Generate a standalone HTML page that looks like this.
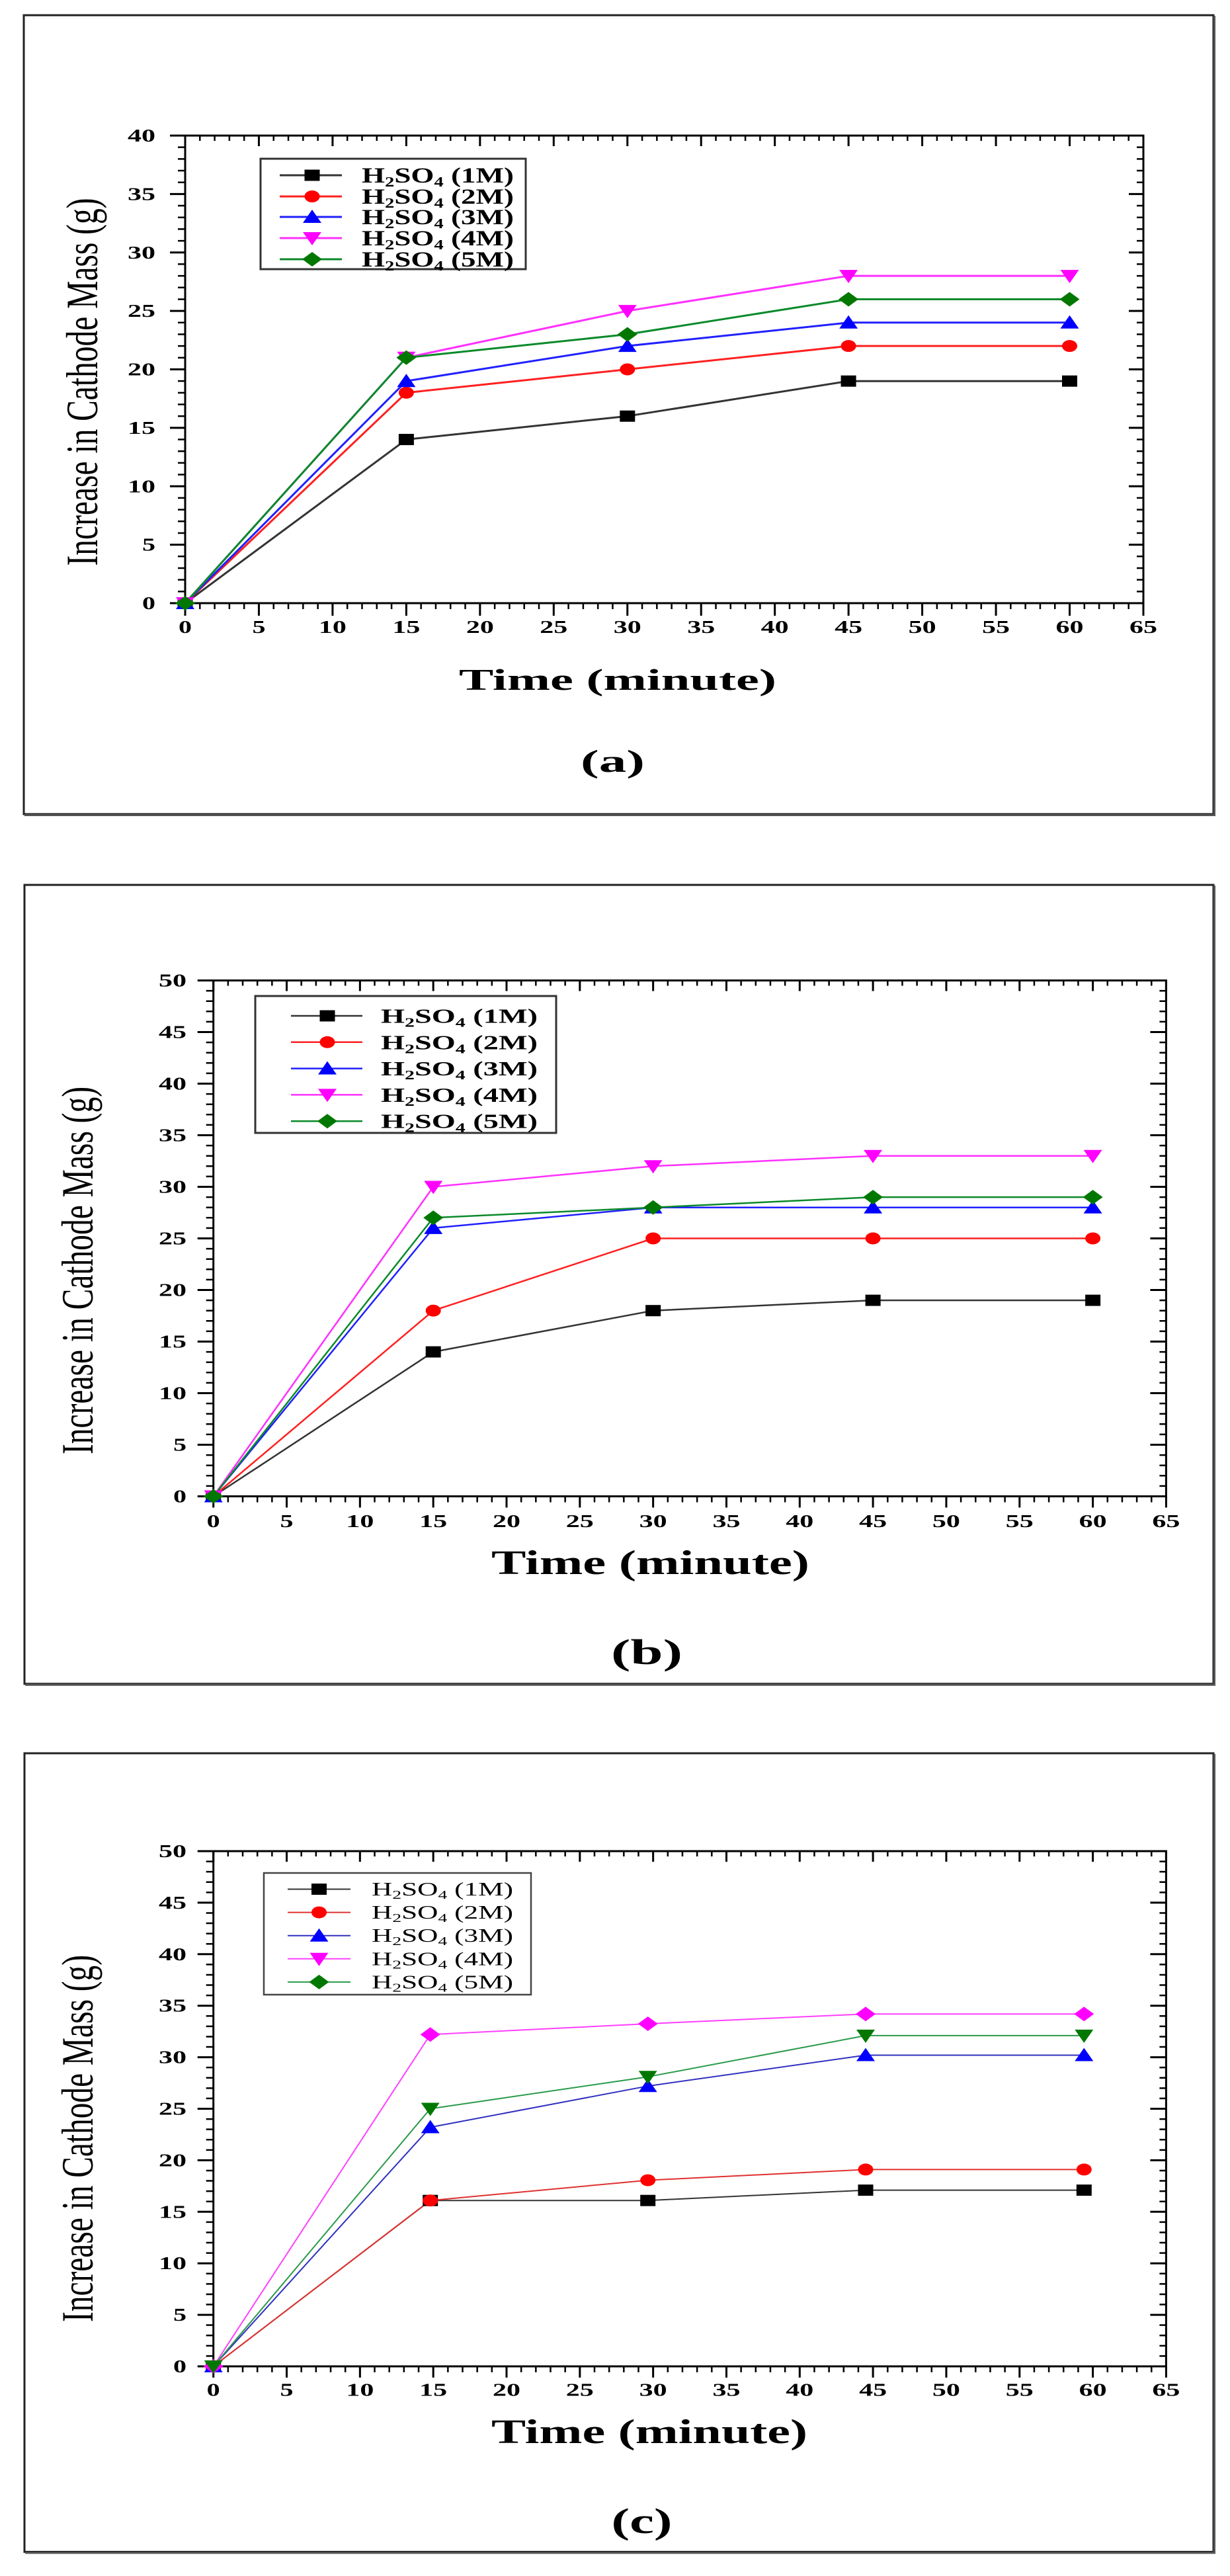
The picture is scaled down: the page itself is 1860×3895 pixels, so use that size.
<!DOCTYPE html>
<html><head><meta charset="utf-8"><style>
html,body{margin:0;padding:0;background:#fff;}
svg{display:block;}
text{font-family:"Liberation Serif","DejaVu Serif",serif;fill:#000;}
.tk{font-size:27px;font-weight:bold;}
.lg{font-weight:bold;}
</style></head><body>
<svg width="1860" height="3895" viewBox="0 0 1860 3895" xmlns="http://www.w3.org/2000/svg">
<defs>
<rect id="sq" x="-11.5" y="-8.5" width="23" height="17"/>
<ellipse id="ci" rx="11.5" ry="9"/>
<polygon id="up" points="0,-11 14,9 -14,9"/>
<polygon id="dn" points="-14,-9 14,-9 0,11"/>
<polygon id="di" points="0,-11 15,0 0,11 -15,0"/>
</defs>
<rect width="1860" height="3895" fill="#fff"/>

<!-- ================= PANEL A ================= -->
<rect x="36" y="23" width="1799" height="1208" fill="none" stroke="#222" stroke-width="3"/>
<line x1="1836.5" y1="24" x2="1836.5" y2="1233" stroke="#555" stroke-width="3"/>
<line x1="37" y1="1232.5" x2="1838" y2="1232.5" stroke="#555" stroke-width="3"/>

<!-- axes box -->
<rect x="280" y="205" width="1449" height="707" fill="none" stroke="#000" stroke-width="3"/>
<!-- ticks -->
<g stroke="#000" fill="none">
<line x1="278.75" y1="916.5" x2="1730.25" y2="916.5" stroke-width="9" stroke-dasharray="2.5 19.792"/>
<line x1="278.5" y1="921.5" x2="1730.5" y2="921.5" stroke-width="19" stroke-dasharray="3 108.46"/>
<line x1="278.75" y1="209" x2="1730.25" y2="209" stroke-width="8" stroke-dasharray="2.5 19.792"/>
<line x1="278.5" y1="213" x2="1730.5" y2="213" stroke-width="16" stroke-dasharray="3 108.46"/>
<line x1="274.5" y1="203.75" x2="274.5" y2="913.25" stroke-width="11" stroke-dasharray="2.5 15.175"/>
<line x1="268.5" y1="203.5" x2="268.5" y2="913.5" stroke-width="23" stroke-dasharray="3 85.375"/>
<line x1="1724" y1="203.75" x2="1724" y2="913.25" stroke-width="10" stroke-dasharray="2.5 15.175"/>
<line x1="1718" y1="203.5" x2="1718" y2="913.5" stroke-width="22" stroke-dasharray="3 85.375"/>
</g>
<!-- tick labels -->
<g class="tk" text-anchor="middle">
<text x="280" y="957" textLength="20" lengthAdjust="spacingAndGlyphs">0</text>
<text x="391.46" y="957" textLength="20" lengthAdjust="spacingAndGlyphs">5</text>
<text x="502.92" y="957" textLength="42" lengthAdjust="spacingAndGlyphs">10</text>
<text x="614.38" y="957" textLength="42" lengthAdjust="spacingAndGlyphs">15</text>
<text x="725.84" y="957" textLength="42" lengthAdjust="spacingAndGlyphs">20</text>
<text x="837.3" y="957" textLength="42" lengthAdjust="spacingAndGlyphs">25</text>
<text x="948.76" y="957" textLength="42" lengthAdjust="spacingAndGlyphs">30</text>
<text x="1060.22" y="957" textLength="42" lengthAdjust="spacingAndGlyphs">35</text>
<text x="1171.68" y="957" textLength="42" lengthAdjust="spacingAndGlyphs">40</text>
<text x="1283.14" y="957" textLength="42" lengthAdjust="spacingAndGlyphs">45</text>
<text x="1394.6" y="957" textLength="42" lengthAdjust="spacingAndGlyphs">50</text>
<text x="1506.06" y="957" textLength="42" lengthAdjust="spacingAndGlyphs">55</text>
<text x="1617.52" y="957" textLength="42" lengthAdjust="spacingAndGlyphs">60</text>
<text x="1728.98" y="957" textLength="42" lengthAdjust="spacingAndGlyphs">65</text>
</g>
<g class="tk" text-anchor="end">
<text x="235" y="921" textLength="20" lengthAdjust="spacingAndGlyphs">0</text>
<text x="235" y="832.6" textLength="20" lengthAdjust="spacingAndGlyphs">5</text>
<text x="235" y="744.25" textLength="42" lengthAdjust="spacingAndGlyphs">10</text>
<text x="235" y="655.9" textLength="42" lengthAdjust="spacingAndGlyphs">15</text>
<text x="235" y="567.5" textLength="42" lengthAdjust="spacingAndGlyphs">20</text>
<text x="235" y="479.1" textLength="42" lengthAdjust="spacingAndGlyphs">25</text>
<text x="235" y="390.75" textLength="42" lengthAdjust="spacingAndGlyphs">30</text>
<text x="235" y="302.4" textLength="42" lengthAdjust="spacingAndGlyphs">35</text>
<text x="235" y="214" textLength="42" lengthAdjust="spacingAndGlyphs">40</text>
</g>
<!-- axis titles -->
<text transform="translate(147,577.5) scale(1.35,1) rotate(-90)" x="0" y="0" text-anchor="middle" font-size="50" textLength="556" lengthAdjust="spacingAndGlyphs">Increase in Cathode Mass (g)</text>
<text x="694" y="1043" font-size="46" font-weight="bold" textLength="480" lengthAdjust="spacingAndGlyphs">Time (minute)</text>
<text x="878" y="1167" font-size="48" font-weight="bold" textLength="97" lengthAdjust="spacingAndGlyphs">(a)</text>

<!-- series A -->
<g fill="none" stroke-width="3" stroke-linejoin="round">
<path d="M280,912 L614.4,664.55 L948.8,629.2 L1283.1,576.2 L1617.5,576.2" stroke="#333"/>
<path d="M280,912 L614.4,593.85 L948.8,558.5 L1283.1,523.15 L1617.5,523.15" stroke="#ff2020"/>
<path d="M280,912 L614.4,576.2 L948.8,523.15 L1283.1,487.8 L1617.5,487.8" stroke="#2020ff"/>
<path d="M280,912 L614.4,540.8 L948.8,470.1 L1283.1,417.1 L1617.5,417.1" stroke="#ff30ff"/>
<path d="M280,912 L614.4,540.8 L948.8,505.5 L1283.1,452.45 L1617.5,452.45" stroke="#0a8a2a"/>
</g>
<g fill="#000"><use href="#sq" x="280" y="912"/><use href="#sq" x="614.4" y="664.55"/><use href="#sq" x="948.8" y="629.2"/><use href="#sq" x="1283.1" y="576.2"/><use href="#sq" x="1617.5" y="576.2"/></g>
<g fill="#ff0000"><use href="#ci" x="280" y="912"/><use href="#ci" x="614.4" y="593.85"/><use href="#ci" x="948.8" y="558.5"/><use href="#ci" x="1283.1" y="523.15"/><use href="#ci" x="1617.5" y="523.15"/></g>
<g fill="#0000ff"><use href="#up" x="280" y="912"/><use href="#up" x="614.4" y="576.2"/><use href="#up" x="948.8" y="523.15"/><use href="#up" x="1283.1" y="487.8"/><use href="#up" x="1617.5" y="487.8"/></g>
<g fill="#ff00ff"><use href="#dn" x="280" y="912"/><use href="#dn" x="614.4" y="540.8"/><use href="#dn" x="948.8" y="470.1"/><use href="#dn" x="1283.1" y="417.1"/><use href="#dn" x="1617.5" y="417.1"/></g>
<g fill="#007800"><use href="#di" x="280" y="912"/><use href="#di" x="614.4" y="540.8"/><use href="#di" x="948.8" y="505.5"/><use href="#di" x="1283.1" y="452.45"/><use href="#di" x="1617.5" y="452.45"/></g>

<!-- legend A -->
<rect x="394" y="240" width="401" height="167" fill="#fff" stroke="#333" stroke-width="3"/>
<g stroke-width="3">
<line x1="423" y1="265" x2="517" y2="265" stroke="#333"/>
<line x1="423" y1="297" x2="517" y2="297" stroke="#ff2020"/>
<line x1="423" y1="328" x2="517" y2="328" stroke="#2020ff"/>
<line x1="423" y1="360" x2="517" y2="360" stroke="#ff30ff"/>
<line x1="423" y1="392" x2="517" y2="392" stroke="#0a8a2a"/>
</g>
<use href="#sq" x="472" y="265" fill="#000"/>
<use href="#ci" x="472" y="297" fill="#ff0000"/>
<use href="#up" x="472" y="328" fill="#0000ff"/>
<use href="#dn" x="472" y="360" fill="#ff00ff"/>
<use href="#di" x="472" y="392" fill="#007800"/>
<g class="lg" font-size="33">
<text x="547" y="276" textLength="230" lengthAdjust="spacingAndGlyphs">H<tspan font-size="21" dy="6">2</tspan><tspan dy="-6">SO</tspan><tspan font-size="21" dy="6">4</tspan><tspan dy="-6"> (1M)</tspan></text>
<text x="547" y="308" textLength="230" lengthAdjust="spacingAndGlyphs">H<tspan font-size="21" dy="6">2</tspan><tspan dy="-6">SO</tspan><tspan font-size="21" dy="6">4</tspan><tspan dy="-6"> (2M)</tspan></text>
<text x="547" y="339" textLength="230" lengthAdjust="spacingAndGlyphs">H<tspan font-size="21" dy="6">2</tspan><tspan dy="-6">SO</tspan><tspan font-size="21" dy="6">4</tspan><tspan dy="-6"> (3M)</tspan></text>
<text x="547" y="371" textLength="230" lengthAdjust="spacingAndGlyphs">H<tspan font-size="21" dy="6">2</tspan><tspan dy="-6">SO</tspan><tspan font-size="21" dy="6">4</tspan><tspan dy="-6"> (4M)</tspan></text>
<text x="547" y="403" textLength="230" lengthAdjust="spacingAndGlyphs">H<tspan font-size="21" dy="6">2</tspan><tspan dy="-6">SO</tspan><tspan font-size="21" dy="6">4</tspan><tspan dy="-6"> (5M)</tspan></text>
</g>

<!-- ================= PANEL B ================= -->
<rect x="37" y="1338" width="1798" height="1208" fill="none" stroke="#222" stroke-width="3"/>
<line x1="1836.5" y1="1339" x2="1836.5" y2="2548" stroke="#555" stroke-width="3"/>
<line x1="38" y1="2547.5" x2="1838" y2="2547.5" stroke="#555" stroke-width="3"/>

<rect x="322.7" y="1482.5" width="1440.7" height="780" fill="none" stroke="#000" stroke-width="3"/>
<g stroke="#000" fill="none">
<line x1="321.45" y1="2267" x2="1764.65" y2="2267" stroke-width="9" stroke-dasharray="2.5 19.665"/>
<line x1="321.2" y1="2271" x2="1764.9" y2="2271" stroke-width="17" stroke-dasharray="3 107.825"/>
<line x1="321.45" y1="1486.5" x2="1764.65" y2="1486.5" stroke-width="8" stroke-dasharray="2.5 19.665"/>
<line x1="321.2" y1="1490.5" x2="1764.9" y2="1490.5" stroke-width="16" stroke-dasharray="3 107.825"/>
<line x1="317.2" y1="1481.25" x2="317.2" y2="2263.75" stroke-width="11" stroke-dasharray="2.5 13.1"/>
<line x1="310.7" y1="1481" x2="310.7" y2="2264" stroke-width="24" stroke-dasharray="3 75"/>
<line x1="1758.4" y1="1481.25" x2="1758.4" y2="2263.75" stroke-width="10" stroke-dasharray="2.5 13.1"/>
<line x1="1751.4" y1="1481" x2="1751.4" y2="2264" stroke-width="24" stroke-dasharray="3 75"/>
</g>
<g class="tk" text-anchor="middle">
<text x="322.7" y="2309" textLength="20" lengthAdjust="spacingAndGlyphs">0</text>
<text x="433.5" y="2309" textLength="20" lengthAdjust="spacingAndGlyphs">5</text>
<text x="544.35" y="2309" textLength="42" lengthAdjust="spacingAndGlyphs">10</text>
<text x="655.2" y="2309" textLength="42" lengthAdjust="spacingAndGlyphs">15</text>
<text x="766" y="2309" textLength="42" lengthAdjust="spacingAndGlyphs">20</text>
<text x="876.8" y="2309" textLength="42" lengthAdjust="spacingAndGlyphs">25</text>
<text x="987.65" y="2309" textLength="42" lengthAdjust="spacingAndGlyphs">30</text>
<text x="1098.5" y="2309" textLength="42" lengthAdjust="spacingAndGlyphs">35</text>
<text x="1209.3" y="2309" textLength="42" lengthAdjust="spacingAndGlyphs">40</text>
<text x="1320.1" y="2309" textLength="42" lengthAdjust="spacingAndGlyphs">45</text>
<text x="1430.95" y="2309" textLength="42" lengthAdjust="spacingAndGlyphs">50</text>
<text x="1541.8" y="2309" textLength="42" lengthAdjust="spacingAndGlyphs">55</text>
<text x="1652.6" y="2309" textLength="42" lengthAdjust="spacingAndGlyphs">60</text>
<text x="1763.4" y="2309" textLength="42" lengthAdjust="spacingAndGlyphs">65</text>
</g>
<g class="tk" text-anchor="end">
<text x="282" y="2271.5" textLength="20" lengthAdjust="spacingAndGlyphs">0</text>
<text x="282" y="2193.5" textLength="20" lengthAdjust="spacingAndGlyphs">5</text>
<text x="282" y="2115.5" textLength="42" lengthAdjust="spacingAndGlyphs">10</text>
<text x="282" y="2037.5" textLength="42" lengthAdjust="spacingAndGlyphs">15</text>
<text x="282" y="1959.5" textLength="42" lengthAdjust="spacingAndGlyphs">20</text>
<text x="282" y="1881.5" textLength="42" lengthAdjust="spacingAndGlyphs">25</text>
<text x="282" y="1803.5" textLength="42" lengthAdjust="spacingAndGlyphs">30</text>
<text x="282" y="1725.5" textLength="42" lengthAdjust="spacingAndGlyphs">35</text>
<text x="282" y="1647.5" textLength="42" lengthAdjust="spacingAndGlyphs">40</text>
<text x="282" y="1569.5" textLength="42" lengthAdjust="spacingAndGlyphs">45</text>
<text x="282" y="1491.5" textLength="42" lengthAdjust="spacingAndGlyphs">50</text>
</g>
<text transform="translate(140,1921) scale(1.35,1) rotate(-90)" x="0" y="0" text-anchor="middle" font-size="50" textLength="556" lengthAdjust="spacingAndGlyphs">Increase in Cathode Mass (g)</text>
<text x="743" y="2380" font-size="52" font-weight="bold" textLength="481" lengthAdjust="spacingAndGlyphs">Time (minute)</text>
<text x="924" y="2516" font-size="54" font-weight="bold" textLength="108" lengthAdjust="spacingAndGlyphs">(b)</text>

<g fill="none" stroke-width="2.5" stroke-linejoin="round">
<path d="M322.7,2262.5 L655.2,2044.1 L987.65,1981.7 L1320.1,1966.1 L1652.6,1966.1" stroke="#333"/>
<path d="M322.7,2262.5 L655.2,1981.7 L987.65,1872.5 L1320.1,1872.5 L1652.6,1872.5" stroke="#ff2020"/>
<path d="M322.7,2262.5 L655.2,1856.9 L987.65,1825.7 L1320.1,1825.7 L1652.6,1825.7" stroke="#2020ff"/>
<path d="M322.7,2262.5 L655.2,1794.5 L987.65,1763.3 L1320.1,1747.7 L1652.6,1747.7" stroke="#ff30ff"/>
<path d="M322.7,2262.5 L655.2,1841.3 L987.65,1825.7 L1320.1,1810.1 L1652.6,1810.1" stroke="#0a8a2a"/>
</g>
<g fill="#000"><use href="#sq" x="322.7" y="2262.5"/><use href="#sq" x="655.2" y="2044.1"/><use href="#sq" x="987.65" y="1981.7"/><use href="#sq" x="1320.1" y="1966.1"/><use href="#sq" x="1652.6" y="1966.1"/></g>
<g fill="#ff0000"><use href="#ci" x="322.7" y="2262.5"/><use href="#ci" x="655.2" y="1981.7"/><use href="#ci" x="987.65" y="1872.5"/><use href="#ci" x="1320.1" y="1872.5"/><use href="#ci" x="1652.6" y="1872.5"/></g>
<g fill="#0000ff"><use href="#up" x="322.7" y="2262.5"/><use href="#up" x="655.2" y="1856.9"/><use href="#up" x="987.65" y="1825.7"/><use href="#up" x="1320.1" y="1825.7"/><use href="#up" x="1652.6" y="1825.7"/></g>
<g fill="#ff00ff"><use href="#dn" x="322.7" y="2262.5"/><use href="#dn" x="655.2" y="1794.5"/><use href="#dn" x="987.65" y="1763.3"/><use href="#dn" x="1320.1" y="1747.7"/><use href="#dn" x="1652.6" y="1747.7"/></g>
<g fill="#007800"><use href="#di" x="322.7" y="2262.5"/><use href="#di" x="655.2" y="1841.3"/><use href="#di" x="987.65" y="1825.7"/><use href="#di" x="1320.1" y="1810.1"/><use href="#di" x="1652.6" y="1810.1"/></g>

<rect x="386" y="1506" width="455" height="207" fill="#fff" stroke="#333" stroke-width="3"/>
<g stroke-width="2.5">
<line x1="440" y1="1536" x2="548" y2="1536" stroke="#333"/>
<line x1="440" y1="1575.8" x2="548" y2="1575.8" stroke="#ff2020"/>
<line x1="440" y1="1615.6" x2="548" y2="1615.6" stroke="#2020ff"/>
<line x1="440" y1="1655.4" x2="548" y2="1655.4" stroke="#ff30ff"/>
<line x1="440" y1="1695.2" x2="548" y2="1695.2" stroke="#0a8a2a"/>
</g>
<use href="#sq" x="495" y="1536" fill="#000"/>
<use href="#ci" x="495" y="1575.8" fill="#ff0000"/>
<use href="#up" x="495" y="1615.6" fill="#0000ff"/>
<use href="#dn" x="495" y="1655.4" fill="#ff00ff"/>
<use href="#di" x="495" y="1695.2" fill="#007800"/>
<g class="lg" font-size="31">
<text x="576" y="1546.5" textLength="237" lengthAdjust="spacingAndGlyphs">H<tspan font-size="20" dy="6">2</tspan><tspan dy="-6">SO</tspan><tspan font-size="20" dy="6">4</tspan><tspan dy="-6"> (1M)</tspan></text>
<text x="576" y="1586.3" textLength="237" lengthAdjust="spacingAndGlyphs">H<tspan font-size="20" dy="6">2</tspan><tspan dy="-6">SO</tspan><tspan font-size="20" dy="6">4</tspan><tspan dy="-6"> (2M)</tspan></text>
<text x="576" y="1626.1" textLength="237" lengthAdjust="spacingAndGlyphs">H<tspan font-size="20" dy="6">2</tspan><tspan dy="-6">SO</tspan><tspan font-size="20" dy="6">4</tspan><tspan dy="-6"> (3M)</tspan></text>
<text x="576" y="1665.9" textLength="237" lengthAdjust="spacingAndGlyphs">H<tspan font-size="20" dy="6">2</tspan><tspan dy="-6">SO</tspan><tspan font-size="20" dy="6">4</tspan><tspan dy="-6"> (4M)</tspan></text>
<text x="576" y="1705.7" textLength="237" lengthAdjust="spacingAndGlyphs">H<tspan font-size="20" dy="6">2</tspan><tspan dy="-6">SO</tspan><tspan font-size="20" dy="6">4</tspan><tspan dy="-6"> (5M)</tspan></text>
</g>

<!-- ================= PANEL C ================= -->
<rect x="37" y="2651" width="1798" height="1207.5" fill="none" stroke="#222" stroke-width="3"/>
<line x1="1836.5" y1="2652" x2="1836.5" y2="3860" stroke="#555" stroke-width="3"/>
<line x1="38" y1="3860" x2="1838" y2="3860" stroke="#555" stroke-width="3"/>

<rect x="322.7" y="2799" width="1440.7" height="779" fill="none" stroke="#000" stroke-width="3"/>
<g stroke="#000" fill="none">
<line x1="321.45" y1="3582.5" x2="1764.65" y2="3582.5" stroke-width="9" stroke-dasharray="2.5 19.665"/>
<line x1="321.2" y1="3586.5" x2="1764.9" y2="3586.5" stroke-width="17" stroke-dasharray="3 107.825"/>
<line x1="321.45" y1="2803" x2="1764.65" y2="2803" stroke-width="8" stroke-dasharray="2.5 19.665"/>
<line x1="321.2" y1="2807" x2="1764.9" y2="2807" stroke-width="16" stroke-dasharray="3 107.825"/>
<line x1="317.2" y1="2797.75" x2="317.2" y2="3579.25" stroke-width="11" stroke-dasharray="2.5 13.08"/>
<line x1="310.7" y1="2797.5" x2="310.7" y2="3579.5" stroke-width="24" stroke-dasharray="3 74.9"/>
<line x1="1758.4" y1="2797.75" x2="1758.4" y2="3579.25" stroke-width="10" stroke-dasharray="2.5 13.08"/>
<line x1="1751.4" y1="2797.5" x2="1751.4" y2="3579.5" stroke-width="24" stroke-dasharray="3 74.9"/>
</g>
<g class="tk" text-anchor="middle">
<text x="322.7" y="3622.5" textLength="20" lengthAdjust="spacingAndGlyphs">0</text>
<text x="433.5" y="3622.5" textLength="20" lengthAdjust="spacingAndGlyphs">5</text>
<text x="544.35" y="3622.5" textLength="42" lengthAdjust="spacingAndGlyphs">10</text>
<text x="655.2" y="3622.5" textLength="42" lengthAdjust="spacingAndGlyphs">15</text>
<text x="766" y="3622.5" textLength="42" lengthAdjust="spacingAndGlyphs">20</text>
<text x="876.8" y="3622.5" textLength="42" lengthAdjust="spacingAndGlyphs">25</text>
<text x="987.65" y="3622.5" textLength="42" lengthAdjust="spacingAndGlyphs">30</text>
<text x="1098.5" y="3622.5" textLength="42" lengthAdjust="spacingAndGlyphs">35</text>
<text x="1209.3" y="3622.5" textLength="42" lengthAdjust="spacingAndGlyphs">40</text>
<text x="1320.1" y="3622.5" textLength="42" lengthAdjust="spacingAndGlyphs">45</text>
<text x="1430.95" y="3622.5" textLength="42" lengthAdjust="spacingAndGlyphs">50</text>
<text x="1541.8" y="3622.5" textLength="42" lengthAdjust="spacingAndGlyphs">55</text>
<text x="1652.6" y="3622.5" textLength="42" lengthAdjust="spacingAndGlyphs">60</text>
<text x="1763.4" y="3622.5" textLength="42" lengthAdjust="spacingAndGlyphs">65</text>
</g>
<g class="tk" text-anchor="end">
<text x="282" y="3587" textLength="20" lengthAdjust="spacingAndGlyphs">0</text>
<text x="282" y="3509.1" textLength="20" lengthAdjust="spacingAndGlyphs">5</text>
<text x="282" y="3431.2" textLength="42" lengthAdjust="spacingAndGlyphs">10</text>
<text x="282" y="3353.3" textLength="42" lengthAdjust="spacingAndGlyphs">15</text>
<text x="282" y="3275.4" textLength="42" lengthAdjust="spacingAndGlyphs">20</text>
<text x="282" y="3197.5" textLength="42" lengthAdjust="spacingAndGlyphs">25</text>
<text x="282" y="3119.6" textLength="42" lengthAdjust="spacingAndGlyphs">30</text>
<text x="282" y="3041.7" textLength="42" lengthAdjust="spacingAndGlyphs">35</text>
<text x="282" y="2963.8" textLength="42" lengthAdjust="spacingAndGlyphs">40</text>
<text x="282" y="2885.9" textLength="42" lengthAdjust="spacingAndGlyphs">45</text>
<text x="282" y="2808" textLength="42" lengthAdjust="spacingAndGlyphs">50</text>
</g>
<text transform="translate(140,3233.5) scale(1.35,1) rotate(-90)" x="0" y="0" text-anchor="middle" font-size="50" textLength="555" lengthAdjust="spacingAndGlyphs">Increase in Cathode Mass (g)</text>
<text x="743" y="3694" font-size="52" font-weight="bold" textLength="478" lengthAdjust="spacingAndGlyphs">Time (minute)</text>
<text x="924.5" y="3830" font-size="54" font-weight="bold" textLength="92" lengthAdjust="spacingAndGlyphs">(c)</text>

<g fill="none" stroke-width="2" stroke-linejoin="round">
<path d="M322.7,3578 L650.7,3327.2 L979.7,3327.2 L1309,3311.6 L1639.3,3311.6" stroke="#333"/>
<path d="M322.7,3578 L650.7,3327.2 L979.7,3296.6 L1309,3280.4 L1639.3,3280.4" stroke="#e03030"/>
<path d="M322.7,3578 L650.7,3216.5 L979.7,3154.2 L1309,3107.5 L1639.3,3107.5" stroke="#3030c0"/>
<path d="M322.7,3578 L650.7,3076.3 L979.7,3060 L1309,3045.2 L1639.3,3045.2" stroke="#ff40ff"/>
<path d="M322.7,3578 L650.7,3188.5 L979.7,3140.2 L1309,3077.9 L1639.3,3077.9" stroke="#2a9a4a"/>
</g>
<g fill="#000"><use href="#sq" x="322.7" y="3578"/><use href="#sq" x="650.7" y="3327.2"/><use href="#sq" x="979.7" y="3327.2"/><use href="#sq" x="1309" y="3311.6"/><use href="#sq" x="1639.3" y="3311.6"/></g>
<g fill="#ff0000"><use href="#ci" x="322.7" y="3578"/><use href="#ci" x="650.7" y="3327.2"/><use href="#ci" x="979.7" y="3296.6"/><use href="#ci" x="1309" y="3280.4"/><use href="#ci" x="1639.3" y="3280.4"/></g>
<g fill="#0000ff"><use href="#up" x="322.7" y="3578"/><use href="#up" x="650.7" y="3216.5"/><use href="#up" x="979.7" y="3154.2"/><use href="#up" x="1309" y="3107.5"/><use href="#up" x="1639.3" y="3107.5"/></g>
<g fill="#ff00ff"><use href="#di" x="322.7" y="3578"/><use href="#di" x="650.7" y="3076.3"/><use href="#di" x="979.7" y="3060"/><use href="#di" x="1309" y="3045.2"/><use href="#di" x="1639.3" y="3045.2"/></g>
<g fill="#007800"><use href="#dn" x="322.7" y="3578"/><use href="#dn" x="650.7" y="3188.5"/><use href="#dn" x="979.7" y="3140.2"/><use href="#dn" x="1309" y="3077.9"/><use href="#dn" x="1639.3" y="3077.9"/></g>

<rect x="399" y="2832" width="404" height="184" fill="#fff" stroke="#444" stroke-width="2.5"/>
<g stroke-width="2">
<line x1="435" y1="2856.5" x2="530" y2="2856.5" stroke="#333"/>
<line x1="435" y1="2891.6" x2="530" y2="2891.6" stroke="#e03030"/>
<line x1="435" y1="2926.7" x2="530" y2="2926.7" stroke="#3030c0"/>
<line x1="435" y1="2961.8" x2="530" y2="2961.8" stroke="#ff40ff"/>
<line x1="435" y1="2996.9" x2="530" y2="2996.9" stroke="#2a9a4a"/>
</g>
<use href="#sq" x="482.5" y="2856.5" fill="#000"/>
<use href="#ci" x="482.5" y="2891.6" fill="#ff0000"/>
<use href="#up" x="482.5" y="2926.7" fill="#0000ff"/>
<use href="#dn" x="482.5" y="2961.8" fill="#ff00ff"/>
<use href="#di" x="482.5" y="2996.9" fill="#007800"/>
<g font-size="28">
<text x="562" y="2866" textLength="214" lengthAdjust="spacingAndGlyphs">H<tspan font-size="18" dy="5">2</tspan><tspan dy="-5">SO</tspan><tspan font-size="18" dy="5">4</tspan><tspan dy="-5"> (1M)</tspan></text>
<text x="562" y="2901.1" textLength="214" lengthAdjust="spacingAndGlyphs">H<tspan font-size="18" dy="5">2</tspan><tspan dy="-5">SO</tspan><tspan font-size="18" dy="5">4</tspan><tspan dy="-5"> (2M)</tspan></text>
<text x="562" y="2936.2" textLength="214" lengthAdjust="spacingAndGlyphs">H<tspan font-size="18" dy="5">2</tspan><tspan dy="-5">SO</tspan><tspan font-size="18" dy="5">4</tspan><tspan dy="-5"> (3M)</tspan></text>
<text x="562" y="2971.3" textLength="214" lengthAdjust="spacingAndGlyphs">H<tspan font-size="18" dy="5">2</tspan><tspan dy="-5">SO</tspan><tspan font-size="18" dy="5">4</tspan><tspan dy="-5"> (4M)</tspan></text>
<text x="562" y="3006.4" textLength="214" lengthAdjust="spacingAndGlyphs">H<tspan font-size="18" dy="5">2</tspan><tspan dy="-5">SO</tspan><tspan font-size="18" dy="5">4</tspan><tspan dy="-5"> (5M)</tspan></text>
</g>
</svg>
</body></html>
